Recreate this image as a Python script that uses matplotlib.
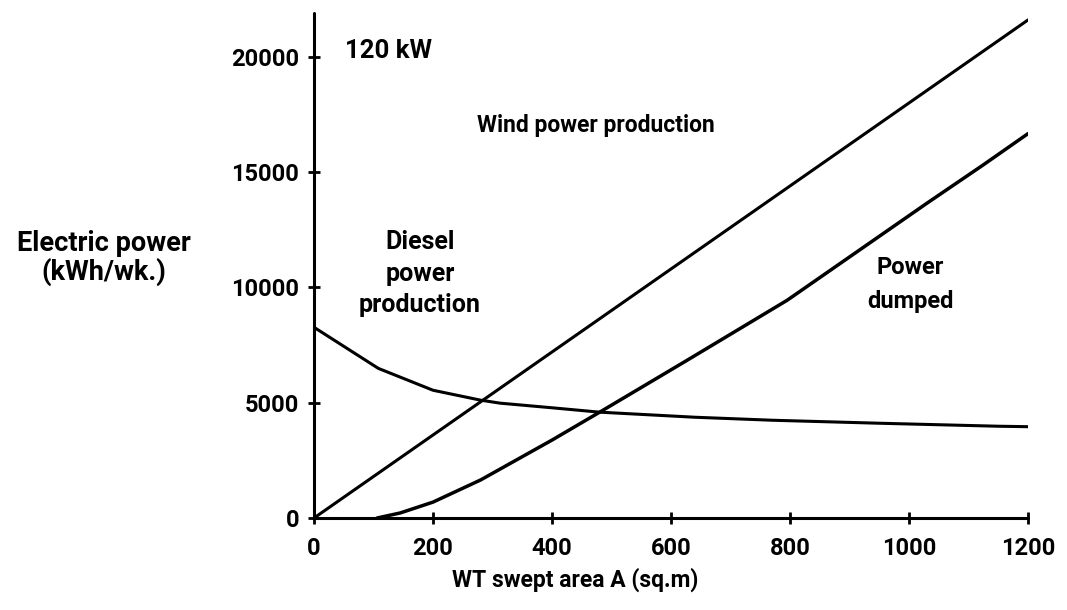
import matplotlib
matplotlib.use("Agg")
import matplotlib.pyplot as plt

# Weekly energy balance vs. wind turbine swept area (120 kW load)
wind_area = [0, 200, 400, 600, 800, 1000, 1200]
wind_power = [0, 3600, 7200, 10800, 14400, 18000, 21600]

diesel_area = [0, 108, 200, 280, 313, 400, 480, 640, 770, 950, 1150, 1200]
diesel_power = [8270, 6490, 5540, 5110, 4980, 4780, 4590, 4370, 4240, 4110, 3980, 3960]

dumped_area = [106, 145, 200, 280, 400, 486, 627, 795, 1030, 1124, 1200]
dumped_power = [0, 220, 690, 1650, 3380, 4680, 6840, 9440, 13650, 15300, 16670]

x_ticks = [0, 200, 400, 600, 800, 1000, 1200]
y_ticks = [0, 5000, 10000, 15000, 20000]

FONT = ["Liberation Sans Narrow", "Roboto", "DejaVu Sans"]
plt.rcParams["font.family"] = FONT
plt.rcParams["font.weight"] = "bold"

fig = plt.figure(figsize=(10.67, 6.10), dpi=100)
ax = fig.add_axes([0.2943, 0.1508, 0.6692, 0.8279])

lw = 2.2
ax.plot(wind_area, wind_power, color="black", lw=lw, solid_capstyle="round")
ax.plot(diesel_area, diesel_power, color="black", lw=lw, solid_capstyle="round")
ax.plot(dumped_area, dumped_power, color="black", lw=2.5, solid_capstyle="round")

ax.set_xlim(0, 1200)
ax.set_ylim(0, 21900)
ax.set_xticks(x_ticks)
ax.set_yticks(y_ticks)
ax.set_xticklabels([str(v) for v in x_ticks])
ax.set_yticklabels([str(v) for v in y_ticks])

for s in ("top", "right"):
    ax.spines[s].set_visible(False)
for s in ("left", "bottom"):
    ax.spines[s].set_linewidth(2.2)
    ax.spines[s].set_capstyle("round")

ax.tick_params(axis="both", direction="inout", length=9, width=2.0,
               labelsize=17, colors="black")
ax.tick_params(axis="x", pad=9)
ax.tick_params(axis="y", pad=6)

ax.text(52, 20260, "120 kW", ha="left", va="center", fontsize=18.5)
ax.text(474, 17010, "Wind power production", ha="center", va="center",
        fontsize=16.5)
ax.text(178, 10600, "Diesel\npower\nproduction", ha="center", va="center",
        linespacing=1.38, fontsize=18)
ax.text(1002, 10130, "Power\ndumped", ha="center", va="center",
        linespacing=1.65, fontsize=17)

fig.text(0.0975, 0.577, "Electric power\n(kWh/wk.)", ha="center", va="center",
         linespacing=1.0, fontsize=19.5)
fig.text(0.539, 0.049, "WT swept area A (sq.m)", ha="center", va="center",
         fontsize=16.5)

fig.savefig("out.png", dpi=100, facecolor="white")
